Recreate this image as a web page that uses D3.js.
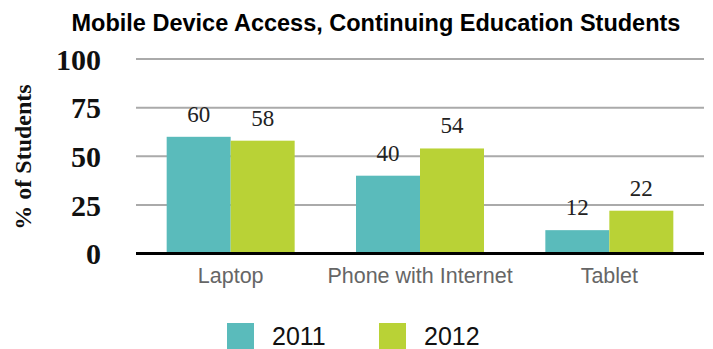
<!DOCTYPE html>
<html>
<head>
<meta charset="utf-8">
<script src="https://cdn.jsdelivr.net/npm/d3@7/dist/d3.min.js"></script>
<style>
  html, body { margin: 0; padding: 0; background: #fff; }
  svg { display: block; }
</style>
</head>
<body>
<svg id="chart" width="713" height="349"></svg>
<script>
// Mobile device access among continuing education students, 2011 vs 2012
const categories = ["Laptop", "Phone with Internet", "Tablet"];
const seriesNames = ["2011", "2012"];
const values2011 = [60, 40, 12];
const values2012 = [58, 54, 22];
const yTicks = [0, 25, 50, 75, 100];
const colors = ["#5abbbb", "#b9d236"];

const svg = d3.select("#chart");
const plot = { left: 136, right: 704, top: 59, bottom: 253.5 };

const x0 = d3.scaleBand()
  .domain(categories)
  .range([plot.left, plot.right])
  .paddingInner(0.324)
  .paddingOuter(0.162);

const x1 = d3.scaleBand()
  .domain(seriesNames)
  .range([0, x0.bandwidth()]);

const y = d3.scaleLinear().domain([0, 100]).range([plot.bottom, plot.top]);

const color = d3.scaleOrdinal().domain(seriesNames).range(colors);

// Title
svg.append("text")
  .attr("x", 376)
  .attr("y", 31)
  .attr("text-anchor", "middle")
  .attr("font-family", "Liberation Sans, Arial, sans-serif")
  .attr("font-weight", "bold")
  .attr("font-size", 23.5)
  .attr("fill", "#000")
  .text("Mobile Device Access, Continuing Education Students");

// Gridlines
svg.append("g")
  .selectAll("line")
  .data(yTicks.filter(d => d > 0))
  .join("line")
  .attr("x1", plot.left)
  .attr("x2", plot.right)
  .attr("y1", d => y(d))
  .attr("y2", d => y(d))
  .attr("stroke", "#aaaaaa")
  .attr("stroke-width", 2);

// Y axis tick labels
const yAxis = d3.axisLeft(y).tickValues(yTicks).tickSize(0).tickPadding(0);
const yg = svg.append("g")
  .attr("transform", `translate(101,0)`)
  .call(yAxis);
yg.select(".domain").remove();
yg.selectAll("text")
  .attr("font-family", "Liberation Serif, Times New Roman, serif")
  .attr("font-weight", "bold")
  .attr("font-size", 30)
  .attr("fill", "#111")
  .attr("dy", "0.34em");

// Y axis title
svg.append("text")
  .attr("transform", `translate(31,157) rotate(-90)`)
  .attr("text-anchor", "middle")
  .attr("font-family", "Liberation Serif, Times New Roman, serif")
  .attr("font-weight", "bold")
  .attr("font-size", 24)
  .attr("fill", "#111")
  .text("% of Students");

// Bars
const rows = categories.map((c, i) => ({
  category: c,
  values: [
    { series: "2011", value: values2011[i] },
    { series: "2012", value: values2012[i] }
  ]
}));

const groups = svg.append("g")
  .selectAll("g")
  .data(rows)
  .join("g")
  .attr("transform", d => `translate(${x0(d.category)},0)`);

groups.selectAll("rect")
  .data(d => d.values)
  .join("rect")
  .attr("x", d => x1(d.series))
  .attr("width", x1.bandwidth())
  .attr("y", d => y(d.value))
  .attr("height", d => y(0) - y(d.value))
  .attr("fill", d => color(d.series));

groups.selectAll("text.val")
  .data(d => d.values)
  .join("text")
  .attr("class", "val")
  .attr("x", d => x1(d.series) + x1.bandwidth() / 2)
  .attr("y", d => y(d.value) - 15)
  .attr("text-anchor", "middle")
  .attr("font-family", "Liberation Serif, Times New Roman, serif")
  .attr("font-size", 23)
  .attr("fill", "#222")
  .text(d => d.value);

// Baseline
svg.append("line")
  .attr("x1", plot.left)
  .attr("x2", plot.right)
  .attr("y1", y(0))
  .attr("y2", y(0))
  .attr("stroke", "#000")
  .attr("stroke-width", 3);

// Category labels
const xAxis = d3.axisBottom(x0).tickSize(0).tickPadding(0);
const xg = svg.append("g")
  .attr("transform", `translate(0,283)`)
  .call(xAxis);
xg.select(".domain").remove();
xg.selectAll("text")
  .attr("font-family", "Liberation Sans, Arial, sans-serif")
  .attr("font-size", 21.5)
  .attr("fill", "#666")
  .attr("dy", 0);

// Legend
const legendX = [227, 379];
const legend = svg.append("g")
  .selectAll("g")
  .data(seriesNames)
  .join("g")
  .attr("transform", (d, i) => `translate(${legendX[i]},323)`);
legend.append("rect")
  .attr("width", 27)
  .attr("height", 27)
  .attr("fill", d => color(d));
legend.append("text")
  .attr("x", 45)
  .attr("y", 22)
  .attr("font-family", "Liberation Sans, Arial, sans-serif")
  .attr("font-size", 25)
  .attr("fill", "#111")
  .text(d => d);
</script>
</body>
</html>
